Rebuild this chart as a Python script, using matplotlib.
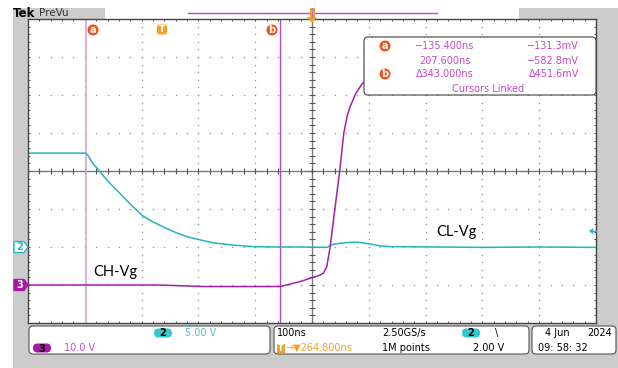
import matplotlib.pyplot as plt
import numpy as np
from matplotlib.patches import FancyBboxPatch, Rectangle, Circle, Polygon

# ---- data (screen divisions: x -5..5, y -4..4) ----
ch2_t = [-5.0, -3.98, -3.94, -3.85, -3.73, -3.60, -3.44, -3.20, -2.98, -2.80, -2.62,
         -2.40, -2.20, -1.95, -1.74, -1.40, -1.04, -0.60, -0.21,
         0.26, 0.37, 0.55, 0.79, 1.02, 1.20, 1.37, 2.2, 3.0, 4.0, 5.0]
ch2_v = [0.47, 0.47, 0.40, 0.18, -0.02, -0.26, -0.50, -0.87, -1.18, -1.34, -1.47,
         -1.62, -1.73, -1.82, -1.89, -1.95, -1.99, -2.0, -2.00,
         -2.01, -1.93, -1.89, -1.87, -1.92, -1.97, -1.99, -2.0, -2.01, -2.0, -2.01]

ch3_t = [-5.0, -2.7, -1.9, -0.56, -0.53, -0.21, 0.14, 0.20, 0.26, 0.32, 0.40, 0.49,
         0.56, 0.62, 0.67, 0.77, 0.88, 0.95, 1.3, 5.0]
ch3_v = [-3.00, -3.00, -3.04, -3.04, -3.03, -2.91, -2.74, -2.69, -2.52, -1.99, -1.03, 0.03,
         1.00, 1.45, 1.69, 2.04, 2.29, 2.39, 2.45, 2.45]

cursor_a = -3.98
cursor_b = -0.56
trig_level = -1.58   # ch2 trigger level marker
ch2_gnd = -2.0
ch3_gnd = -3.0

readout_t = ["\u2212135.400ns", "207.600ns", "\u0394343.000ns"]
readout_v = ["\u2212131.3mV", "\u2212582.8mV", "\u0394451.6mV"]

CYAN = "#22b6b8"
MAG = "#a420a8"
MAGTXT = "#c848c8"
ORANGE = "#f5a02a"
RED = "#f2501a"
GRAY = "#cccccc"

fig = plt.figure(figsize=(6.18, 3.68), dpi=100)
fig.patch.set_facecolor("white")

# background / frame axes in pixel coords
bg = fig.add_axes([0, 0, 1, 1], zorder=0)
bg.set_xlim(0, 618)
bg.set_ylim(368, 0)
bg.axis("off")
bg.add_patch(Rectangle((13, 7.5), 605, 361, color=GRAY, lw=0))
bg.add_patch(Rectangle((105, 7.5), 414, 11.5, facecolor="white", edgecolor="none"))
bg.plot([188, 437], [12.5, 12.5], color="#c040c8", lw=1.0)
bg.text(13, 13.5, "Tek", fontsize=8.5, fontweight="bold", va="center", ha="left")
bg.text(39, 13.5, "PreVu", fontsize=7.5, color="#333333", va="center", ha="left")

# bottom info panels
for x0, x1 in [(29, 270), (274, 529), (532, 616)]:
    bg.add_patch(FancyBboxPatch((x0, 326), x1 - x0, 28, boxstyle="round,pad=0,rounding_size=4",
                                facecolor="white", edgecolor="#555555", lw=0.8))


def pill(ax, x, y, label, fc, tc="black"):
    ax.add_patch(FancyBboxPatch((x - 9, y - 4.5), 18, 9, boxstyle="round,pad=0,rounding_size=4.5",
                                facecolor=fc, edgecolor="none"))
    ax.text(x, y + 0.5, label, fontsize=7, color=tc, ha="center", va="center", fontweight="bold")


fs = 7
pill(bg, 163, 333, "2", "#33c8d0")
bg.text(185, 333, "5.00 V", fontsize=fs, color="#44c4cc", va="center")
pill(bg, 42, 348, "3", "#a818a8")
bg.text(64, 348, "10.0 V", fontsize=fs, color=MAGTXT, va="center")
bg.text(277, 333, "100ns", fontsize=fs, va="center")
bg.add_patch(Rectangle((277, 343.5), 8, 9, facecolor=ORANGE, edgecolor="none"))
bg.text(281, 348.5, "T", fontsize=5.5, color="white", ha="center", va="center", fontweight="bold")
bg.text(286, 348, "\u2192\u25bc264.800ns", fontsize=fs, color=ORANGE, va="center")
bg.text(382, 333, "2.50GS/s", fontsize=fs, va="center")
bg.text(382, 348, "1M points", fontsize=fs, va="center")
pill(bg, 471, 333, "2", "#33c8d0")
bg.text(495, 333, "\\", fontsize=fs, va="center")
bg.text(473, 348, "2.00 V", fontsize=fs, va="center")
bg.text(545, 333, "4 Jun", fontsize=fs, va="center")
bg.text(612, 333, "2024", fontsize=fs, va="center", ha="right")
bg.text(538, 348, "09: 58: 32", fontsize=fs, va="center")

# graticule
ax = fig.add_axes([28 / 618, (368 - 323) / 368, 568 / 618, 304 / 368], zorder=1)
ax.set_xlim(-5, 5)
ax.set_ylim(-4, 4)
ax.set_facecolor("white")
ax.set_xticks([])
ax.set_yticks([])
for s in ax.spines.values():
    s.set_color("#444444")
    s.set_linewidth(1.0)

minor_x = np.arange(-5, 5.01, 0.2)
minor_y = np.arange(-4, 4.01, 0.2)
for k in [-4, -3, -2, -1, 1, 2, 3, 4]:
    ax.plot(np.full_like(minor_y, k), minor_y, ls="none", marker="s", ms=0.9, color="#8a8a8a", mew=0)
for k in [-3, -2, -1, 1, 2, 3]:
    ax.plot(minor_x, np.full_like(minor_x, k), ls="none", marker="s", ms=0.9, color="#8a8a8a", mew=0)
ax.axhline(0, color="#7a7a7a", lw=1.0)
ax.axvline(0, color="#7a7a7a", lw=1.0)
ax.plot(minor_x, np.zeros_like(minor_x), ls="none", marker="|", ms=4, color="#555555", mew=0.8)
ax.plot(np.zeros_like(minor_y), minor_y, ls="none", marker="_", ms=4, color="#555555", mew=0.8)
# border ticks
ax.plot(minor_x, np.full_like(minor_x, 4), ls="none", marker="|", ms=3.5, color="#555555", mew=0.7)
ax.plot(minor_x, np.full_like(minor_x, -4), ls="none", marker="|", ms=3.5, color="#555555", mew=0.7)
ax.plot(np.full_like(minor_y, -5), minor_y, ls="none", marker="_", ms=3.5, color="#555555", mew=0.7)
ax.plot(np.full_like(minor_y, 5), minor_y, ls="none", marker="_", ms=3.5, color="#555555", mew=0.7)

ax.axvline(cursor_a, color="#dda2e6", lw=1.2)
ax.axvline(cursor_b, color="#b848cc", lw=1.0)

ax.plot(ch2_t, ch2_v, color=CYAN, lw=1.1)
ax.plot(ch3_t, ch3_v, color=MAG, lw=1.1)

# annotations
ax.text(-3.86, ch3_gnd + 0.35, "CH-Vg", fontsize=10.5, family="Lato", va="center", ha="left")
ax.text(2.18, -1.6, "CL-Vg", fontsize=10.5, family="Lato", va="center", ha="left")

# foreground overlay (pixel coords)
fg = fig.add_axes([0, 0, 1, 1], zorder=2)
fg.set_xlim(0, 618)
fg.set_ylim(368, 0)
fg.axis("off")
fg.patch.set_alpha(0)


def px_y(v):
    return 171 - v * 38


# cursor labels
for xc, lab in [(93, "a"), (272, "b")]:
    fg.add_patch(Circle((xc, 30), 5.5, color=RED, lw=0))
    fg.text(xc, 30, lab, color="white", fontsize=7, fontweight="bold", ha="center", va="center")
fg.add_patch(FancyBboxPatch((157, 24.5), 10, 10, boxstyle="round,pad=0,rounding_size=2.5",
                            facecolor=ORANGE, edgecolor="none"))
fg.text(162, 29.5, "T", color="white", fontsize=6.5, fontweight="bold", ha="center", va="center")

# expansion marker top
fg.add_patch(Rectangle((309.5, 7.5), 5, 11, facecolor=ORANGE, edgecolor="none"))
fg.add_patch(Polygon([[307, 17], [317, 17], [312, 23]], closed=True, facecolor=ORANGE, edgecolor="none"))
fg.plot([312, 312], [8, 17], color="#c070c0", lw=0.8)

# channel ground markers
y2 = px_y(ch2_gnd)
fg.add_patch(Polygon([[14, y2 - 5.5], [24, y2 - 5.5], [28, y2], [24, y2 + 5.5], [14, y2 + 5.5]],
                     closed=True, facecolor="white", edgecolor=CYAN, lw=1.0))
fg.text(20, y2 + 0.5, "2", color=CYAN, fontsize=7, fontweight="bold", ha="center", va="center")
y3 = px_y(ch3_gnd)
fg.add_patch(Polygon([[14, y3 - 5.5], [24, y3 - 5.5], [28, y3], [24, y3 + 5.5], [14, y3 + 5.5]],
                     closed=True, facecolor="#a818a8", edgecolor="#a818a8", lw=1.0))
fg.text(20, y3 + 0.5, "3", color="white", fontsize=7, fontweight="bold", ha="center", va="center")

# trigger level arrow on right
yt = px_y(trig_level)
fg.add_patch(Polygon([[589, yt], [593, yt - 3], [593, yt + 3]], closed=True, facecolor=CYAN, edgecolor="none"))
fg.plot([591, 596], [yt, yt], color=CYAN, lw=1.0)

# cursor readout box
fg.add_patch(FancyBboxPatch((364, 37), 232, 58, boxstyle="round,pad=0,rounding_size=4",
                            facecolor="white", edgecolor="#555555", lw=0.9))
for yc, lab in [(46, "a"), (74, "b")]:
    fg.add_patch(Circle((385, yc), 5.5, color=RED, lw=0))
    fg.text(385, yc, lab, color="white", fontsize=7, fontweight="bold", ha="center", va="center")
for i, yy in enumerate([46, 61, 74]):
    fg.text(445, yy, readout_t[i], color=MAGTXT, fontsize=fs, ha="center", va="center")
    fg.text(579, yy, readout_v[i], color=MAGTXT, fontsize=fs, ha="right", va="center")
fg.text(488, 89, "Cursors Linked", color=MAGTXT, fontsize=fs, ha="center", va="center")

fig.savefig("out.png", dpi=100)
